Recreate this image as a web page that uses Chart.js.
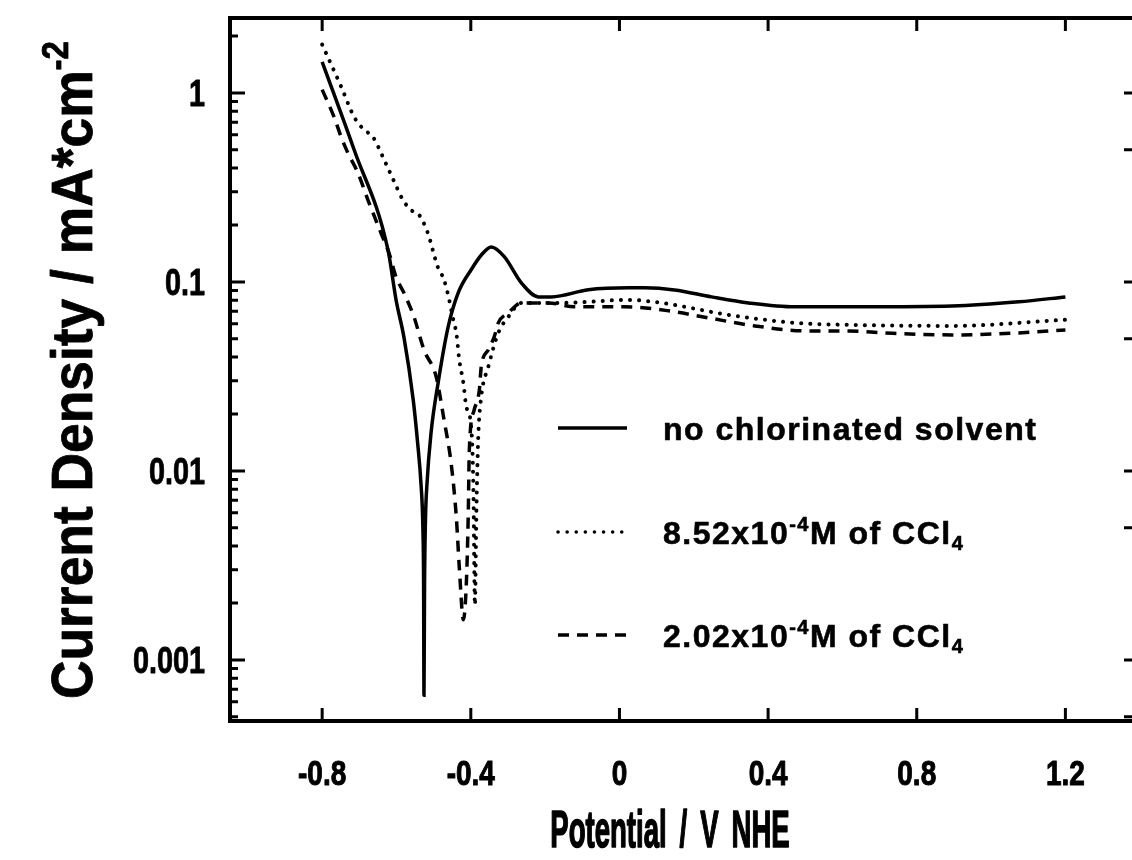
<!DOCTYPE html>
<html><head><meta charset="utf-8">
<script src="https://cdn.jsdelivr.net/npm/chart.js@4.4.0/dist/chart.umd.min.js"></script>
<style>
html,body{margin:0;padding:0;background:#fff;overflow:hidden;width:1132px;height:860px}
#wrap{position:absolute;left:0;top:0;width:1140px;height:860px}
</style></head>
<body><div id="wrap"><canvas id="c" width="1140" height="860"></canvas></div>
<script>
// ---- data ----
const potentialNone = [-0.80,-0.714,-0.623,-0.601,-0.580,-0.555,-0.543,-0.534,-0.529,-0.527,-0.526,-0.5245,-0.522,-0.518,-0.507,-0.488,-0.461,-0.434,-0.399,-0.370,-0.345,-0.310,-0.264,-0.218,-0.183,-0.084,0.024,0.067,0.148,0.248,0.348,0.472,0.652,0.895,1.075,1.20];
const currentNone   = [1.46,0.50,0.148,0.080,0.051,0.0238,0.0140,0.0085,0.0050,0.0025,0.00065,0.0025,0.0055,0.0085,0.0159,0.0292,0.0578,0.0875,0.116,0.140,0.153,0.136,0.0988,0.0833,0.0833,0.0908,0.093,0.093,0.0907,0.0833,0.0774,0.0738,0.0738,0.0745,0.0784,0.0833];

const potential852 = [-0.80,-0.749,-0.714,-0.687,-0.664,-0.633,-0.606,-0.583,-0.561,-0.539,-0.516,-0.489,-0.472,-0.458,-0.447,-0.439,-0.431,-0.420,-0.412,-0.399,-0.393,-0.389,-0.385,-0.380,-0.372,-0.353,-0.326,-0.299,-0.264,-0.156,0.024,0.113,0.294,0.472,0.625,0.895,1.20];
const current852   = [1.80,1.08,0.746,0.637,0.587,0.442,0.338,0.272,0.240,0.226,0.182,0.120,0.1025,0.0803,0.063,0.0537,0.0387,0.0292,0.0218,0.0171,0.008,0.00195,0.006,0.015,0.0246,0.0355,0.0537,0.0653,0.0774,0.0774,0.0803,0.0774,0.0669,0.0607,0.0592,0.0585,0.063];

const potential202 = [-0.80,-0.768,-0.749,-0.731,-0.704,-0.677,-0.642,-0.620,-0.601,-0.580,-0.553,-0.526,-0.493,-0.472,-0.453,-0.439,-0.431,-0.420,-0.412,-0.407,-0.404,-0.391,-0.377,-0.372,-0.353,-0.337,-0.326,-0.299,-0.264,-0.191,-0.121,0.013,0.132,0.240,0.364,0.509,0.617,0.714,0.895,1.075,1.20];
const current202   = [1.04,0.746,0.585,0.482,0.378,0.272,0.182,0.142,0.106,0.0875,0.0653,0.0437,0.0314,0.0186,0.0110,0.0057,0.0031,0.00163,0.00255,0.0057,0.0129,0.021,0.0268,0.0355,0.0437,0.0512,0.0607,0.0686,0.0774,0.0774,0.0738,0.0738,0.0703,0.0645,0.0585,0.055,0.055,0.0537,0.0524,0.0537,0.0557];

const seriesLabels = ['no chlorinated solvent','8.52x10^{-4}M of CCl_{4}','2.02x10^{-4}M of CCl_{4}'];
const xTickValues = [-0.8,-0.4,0,0.4,0.8,1.2];
const xTickLabels = ['-0.8','-0.4','0','0.4','0.8','1.2'];
const yTickValues = [0.001,0.01,0.1,1];
const yTickLabels = ['0.001','0.01','0.1','1'];
const xTitle = 'Potential / V NHE';
const yTitle = 'Current Density / mA*cm^{-2}';

// ---- appearance ----
const X_MIN = -1.048, X_MAX = 1.39, Y_MIN = 4.75e-4, Y_MAX = 2.49;
const FONT = "'Liberation Sans',Arial,Helvetica,sans-serif";
const styles = [
  {borderDash: [], borderCapStyle: 'butt', borderWidth: 3.5},
  {borderDash: [0.1, 9], borderCapStyle: 'round', borderWidth: 4},
  {borderDash: [11, 8], borderCapStyle: 'butt', borderWidth: 3.5}
];

function pts(xs, ys){ return xs.map((x,i)=>({x:x, y:ys[i]})); }

// draws text with ^{sup} and _{sub} parts, horizontally scaled by sx; optional stroke to embolden
function drawRich(ctx, text, x, y, size, align, sx, stroke, wordGap){
  const segs = [];
  const re = /(\^\{[^}]*\}|_\{[^}]*\})/g;
  let last = 0, m;
  while ((m = re.exec(text))){
    if (m.index > last) segs.push({t:text.slice(last,m.index), k:'n'});
    segs.push({t:m[0].slice(2,-1), k:m[0][0]==='^'?'sup':'sub'});
    last = re.lastIndex;
  }
  if (last < text.length) segs.push({t:text.slice(last), k:'n'});
  const fontFor = k => 'bold ' + (k==='n'?size:Math.round(size*0.62)) + 'px ' + FONT;
  ctx.save();
  ctx.textAlign = 'left';
  if (wordGap) ctx.wordSpacing = wordGap + 'px';
  let total = 0;
  segs.forEach(s=>{ ctx.font = fontFor(s.k); s.w = ctx.measureText(s.t).width; total += s.w; });
  ctx.translate(x, y);
  ctx.scale(sx || 1, 1);
  ctx.lineJoin = 'round';
  ctx.strokeStyle = '#000';
  ctx.lineWidth = stroke || 0;
  let cx = align==='center' ? -total/2 : (align==='right' ? -total : 0);
  segs.forEach(s=>{
    ctx.font = fontFor(s.k);
    let dy = 0;
    if (s.k==='sup') dy = -size*0.42;
    if (s.k==='sub') dy = size*0.18;
    ctx.fillText(s.t, cx, dy);
    if (stroke) ctx.strokeText(s.t, cx, dy);
    cx += s.w;
  });
  ctx.restore();
}

const framePlugin = {
  id: 'frame',
  afterDatasetsDraw(chart){
    const ctx = chart.ctx, a = chart.chartArea;
    const xs = chart.scales.x, ys = chart.scales.y;
    ctx.save();
    ctx.strokeStyle = '#000';
    ctx.lineWidth = 4;
    ctx.setLineDash([]);
    ctx.strokeRect(a.left, a.top, a.right-a.left, a.bottom-a.top);
    ctx.lineWidth = 3;
    xTickValues.forEach(v=>{
      const px = xs.getPixelForValue(v);
      ctx.beginPath();
      ctx.moveTo(px, a.bottom); ctx.lineTo(px, a.bottom-13);
      ctx.moveTo(px, a.top); ctx.lineTo(px, a.top+13);
      ctx.stroke();
    });
    for (let e=-4; e<=1; e++){
      for (let m=1; m<=9; m++){
        const v = m*Math.pow(10,e);
        if (v < Y_MIN || v > Y_MAX) continue;
        const py = ys.getPixelForValue(v);
        const lenL = m===1 ? 15 : 8;
        const lenR = (m===1||m===5) ? 12 : 4;
        ctx.beginPath();
        ctx.moveTo(a.left, py); ctx.lineTo(a.left+lenL, py);
        ctx.moveTo(a.right, py); ctx.lineTo(a.right-lenR, py);
        ctx.stroke();
      }
    }
    ctx.restore();
  },
  afterDraw(chart){
    const ctx = chart.ctx, a = chart.chartArea;
    const xs = chart.scales.x, ys = chart.scales.y;
    ctx.save();
    ctx.fillStyle = '#000';
    ctx.textBaseline = 'alphabetic';
    // tick labels, positioned through the scales
    xTickValues.forEach((v,i)=>{
      drawRich(ctx, xTickLabels[i], xs.getPixelForValue(v), a.bottom + 64, 35, 'center', 0.8, 1);
    });
    yTickValues.forEach((v,i)=>{
      drawRich(ctx, yTickLabels[i], a.left - 25, ys.getPixelForValue(v) + 13, 36, 'right', 0.8, 0.8);
    });
    // legend
    const rows = [428, 532, 635];
    chart.data.datasets.forEach((ds,i)=>{
      const y = rows[i];
      ctx.strokeStyle = '#000';
      ctx.lineWidth = 3.5;
      ctx.lineCap = ds.borderCapStyle;
      ctx.setLineDash(ds.borderDash);
      ctx.beginPath(); ctx.moveTo(558, y); ctx.lineTo(627, y); ctx.stroke();
      ctx.setLineDash([]);
      ctx.letterSpacing = '1.5px';
      drawRich(ctx, ds.label, 663, y+12, 32, 'left', 1, 0.6);
      ctx.letterSpacing = '0px';
    });
    // axis titles
    drawRich(ctx, xTitle, 670, 847, 52, 'center', 0.53, 1.6, 10);
    ctx.translate(92, 370);
    ctx.rotate(-Math.PI/2);
    drawRich(ctx, yTitle, 0, 0, 58, 'center', 0.92, 0.8);
    ctx.restore();
  }
};

new Chart(document.getElementById('c'), {
  type: 'line',
  data: {
    datasets: [
      Object.assign({label: seriesLabels[0], data: pts(potentialNone, currentNone)}, styles[0]),
      Object.assign({label: seriesLabels[1], data: pts(potential852, current852)}, styles[1]),
      Object.assign({label: seriesLabels[2], data: pts(potential202, current202)}, styles[2])
    ].map(d=>Object.assign(d,{borderColor:'#000', backgroundColor:'#000', pointRadius:0, fill:false, cubicInterpolationMode:'monotone'}))
  },
  options: {
    responsive: false,
    animation: false,
    devicePixelRatio: 1,
    layout: {padding: {top: 18, right: 4, left: 0, bottom: 0}},
    plugins: {legend: {display: false}, tooltip: {enabled: false}},
    scales: {
      x: {
        type: 'linear', min: X_MIN, max: X_MAX,
        afterBuildTicks: s => { s.ticks = xTickValues.map(v=>({value:v})); },
        afterFit: s => { s.height = 139; s.paddingLeft = 0; s.paddingRight = 0; },
        grid: {display: false}, border: {display: false},
        ticks: {display: false}
      },
      y: {
        type: 'logarithmic', min: Y_MIN, max: Y_MAX,
        afterBuildTicks: s => { s.ticks = yTickValues.map(v=>({value:v})); },
        afterFit: s => { s.width = 230; s.paddingTop = 0; s.paddingBottom = 0; },
        grid: {display: false}, border: {display: false},
        ticks: {display: false}
      }
    }
  },
  plugins: [framePlugin]
});
</script>
</body></html>
